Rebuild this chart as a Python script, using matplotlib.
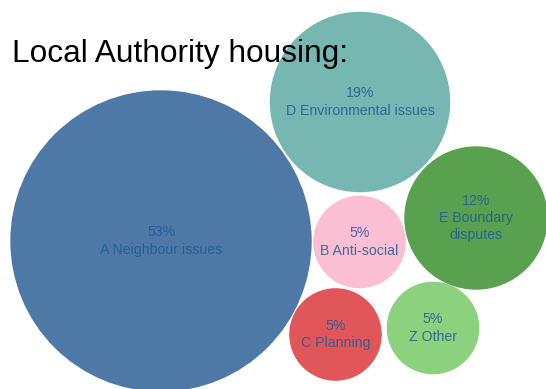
import matplotlib
matplotlib.use('Agg')
import matplotlib.pyplot as plt
from matplotlib.patches import Circle
import numpy as np

# Share of cases by issue type
codes = ['A', 'D', 'E', 'B', 'C', 'Z']
names = ['Neighbour issues', 'Environmental issues', 'Boundary\ndisputes',
         'Anti-social', 'Planning', 'Other']
shares = [53, 19, 12, 5, 5, 5]

# Bubble layout (pixel space, y down) and colours
centres_x = [161, 360, 476, 359.5, 335.5, 433]
centres_y = [241, 102, 218, 242, 334.5, 328]
colours = ['#4e79a7', '#76b7b2', '#59a14f', '#fabfd2', '#e15759', '#8cd17d']

W, H = 546, 389
fig = plt.figure(figsize=(W / 100, H / 100), dpi=100)
ax = fig.add_axes([0, 0, 1, 1])
ax.set_xlim(0, W)
ax.set_ylim(H, 0)
ax.set_aspect('equal')
ax.axis('off')

# bubble area proportional to the share
scale = 20.7
for i in range(len(shares)):
    r = scale * np.sqrt(shares[i])
    ax.add_patch(Circle((centres_x[i], centres_y[i]), r,
                        facecolor=colours[i], edgecolor='none'))
    label = '%d%%\n%s %s' % (shares[i], codes[i], names[i])
    ax.text(centres_x[i], centres_y[i], label, ha='center', va='center',
            fontsize=10.2, family='Liberation Sans', color='#1f5a96',
            alpha=0.85, linespacing=1.3)

fig.text(11.5 / W, 1 - 61.7 / H, 'Local Authority housing:',
         fontsize=22.8, family='Liberation Sans', color='black',
         va='baseline', ha='left')

fig.savefig('out.png', dpi=100)
